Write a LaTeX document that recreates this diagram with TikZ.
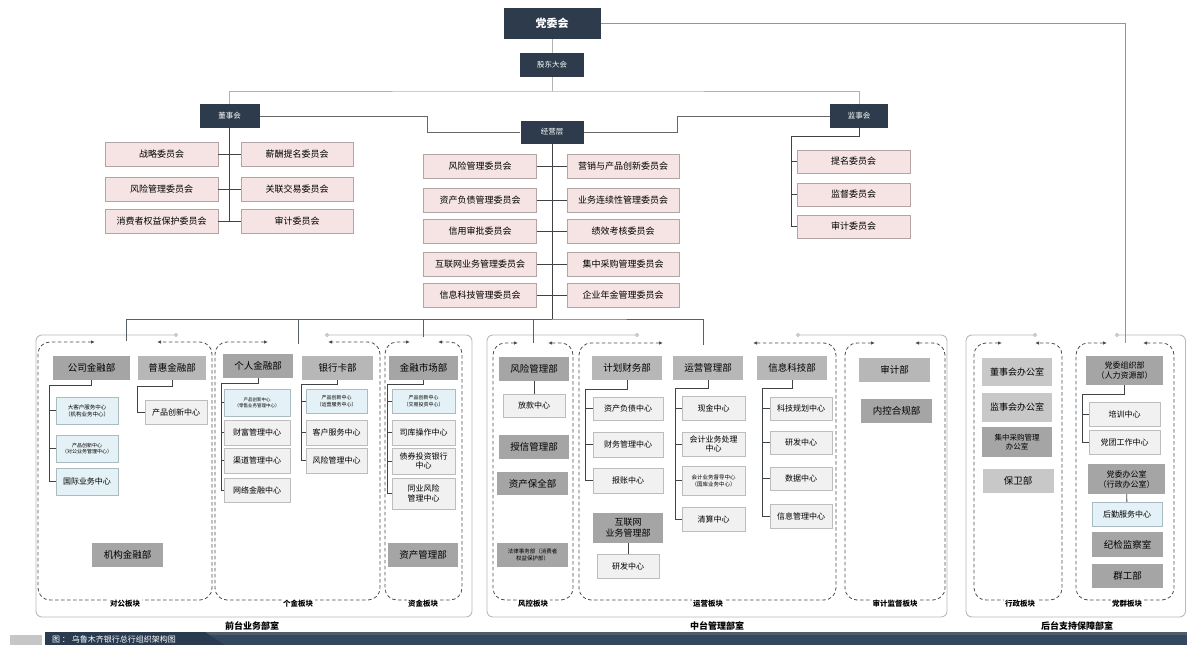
\documentclass[tikz,border=0pt]{standalone}
\usepackage{fontspec}
\setmainfont{Noto Sans CJK SC}
\usetikzlibrary{arrows.meta}
\definecolor{navy}{HTML}{2D3B4C}
\definecolor{cmtefill}{HTML}{F6E4E4}
\definecolor{cmteline}{HTML}{B3A5A5}
\definecolor{deptdark}{HTML}{A5A5A5}
\definecolor{deptmid}{HTML}{B7B7B7}
\definecolor{deptpale}{HTML}{C8C8C8}
\definecolor{ctrfill}{HTML}{F1F1F1}
\definecolor{ctrline}{HTML}{BDBDBD}
\definecolor{bluefill}{HTML}{E4F1F6}
\definecolor{blueline}{HTML}{A9BCC4}
\definecolor{treeline}{HTML}{3F4448}
\definecolor{busgray}{HTML}{56616B}
\definecolor{partyteal}{HTML}{62A9B8}
\definecolor{banner}{HTML}{34495F}
\definecolor{bannerdark}{HTML}{2A3B4F}

\begin{document}
\begin{tikzpicture}[x = 1pt, y = -1pt,
	every node/.style = {inner sep = 0pt, align = center},
	topbox/.style = {fill = navy, text = white, minimum width = 62pt, minimum height = 24pt, font = \fontsize{7.5}{9}\selectfont},
	cmte/.style = {fill = cmtefill, draw = cmteline, line width = 0.5pt, minimum width = 113pt, minimum height = 24pt, font = \fontsize{9}{10}\selectfont},
	dept/.style = {fill = deptdark, minimum width = 71pt, minimum height = 24pt, font = \fontsize{9.5}{11}\selectfont},
	deptb/.style = {dept, fill = deptmid},
	deptc/.style = {dept, fill = deptpale},
	ctr/.style = {fill = ctrfill, draw = ctrline, line width = 0.5pt, minimum height = 24pt, font = \fontsize{8}{9.5}\selectfont},
	ctrb/.style = {ctr, fill = bluefill, draw = blueline},
	smallprint/.style = {font = \fontsize{5}{6.5}\selectfont},
	link/.style = {draw = treeline, line width = 0.9pt},
	upper/.style = {draw = gray!60, line width = 0.9pt},
	mid/.style = {draw = gray!80!black, line width = 0.9pt},
	block/.style = {draw = gray!60!black, line width = 0.8pt, dash pattern = on 3.5pt off 2.5pt, rounded corners = 12pt, {Latex[length = 4pt, width = 3.5pt]}-{Latex[length = 4pt, width = 3.5pt]}},
	outerframe/.style = {draw = gray!55, line width = 0.9pt, rounded corners = 6pt, {Circle[open, length = 4pt]}-{Circle[open, length = 4pt]}},
	blocktag/.style = {fill = white, inner sep = 1.5pt, font = \bfseries\fontsize{7.5}{9}\selectfont},
	frametag/.style = {font = \bfseries\fontsize{9}{11}\selectfont}]
		\useasboundingbox (0, 0) rectangle (1187, 645);
		%%%%%%%%%%%%%
		\node[topbox, minimum width = 97pt, minimum height = 31pt, font = \bfseries\fontsize{11}{13}\selectfont] (dwh) at (552, 23.5) {党委会};
		\node[topbox, minimum width = 64pt] (gd) at (552, 65) {股东大会};
		\node[topbox, minimum width = 60pt] (dsh) at (229.5, 116) {董事会};
		\node[topbox, minimum width = 63pt, minimum height = 23pt] (jy) at (552, 132) {经营层};
		\node[topbox, minimum width = 58pt] (jsh) at (859, 116) {监事会};
		%%%%%%%%%%%%%
		\node[cmte] (d1) at (161.5, 154) {战略委员会};
		\node[cmte] (d2) at (161.5, 189) {风险管理委员会};
		\node[cmte] (d3) at (161.5, 221.5) {消费者权益保护委员会};
		\node[cmte, minimum width = 112pt] (d4) at (297, 154) {薪酬提名委员会};
		\node[cmte, minimum width = 112pt] (d5) at (297, 189) {关联交易委员会};
		\node[cmte, minimum width = 112pt] (d6) at (297, 221.5) {审计委员会};
		%%%%%%%%%%%%%
		\node[cmte] (m1) at (480, 166) {风险管理委员会};
		\node[cmte] (m2) at (480, 200) {资产负债管理委员会};
		\node[cmte] (m3) at (480, 231) {信用审批委员会};
		\node[cmte] (m4) at (480, 264.5) {互联网业务管理委员会};
		\node[cmte] (m5) at (480, 295) {信息科技管理委员会};
		\node[cmte, minimum width = 112pt] (m6) at (623, 166) {营销与产品创新委员会};
		\node[cmte, minimum width = 112pt] (m7) at (623, 200) {业务连续性管理委员会};
		\node[cmte, minimum width = 112pt] (m8) at (623, 231) {绩效考核委员会};
		\node[cmte, minimum width = 112pt] (m9) at (623, 264.5) {集中采购管理委员会};
		\node[cmte, minimum width = 112pt] (m10) at (623, 295) {企业年金管理委员会};
		%%%%%%%%%%%%%
		\node[cmte, minimum height = 23pt] (s1) at (853.5, 161.5) {提名委员会};
		\node[cmte, minimum height = 23pt] (s2) at (853.5, 194.5) {监督委员会};
		\node[cmte, minimum height = 23pt] (s3) at (853.5, 226.5) {审计委员会};
		%%%%%%%%%%%%% top links
		\coordinate (gdj) at (552, 91);
		\draw[upper] (dwh) to (gd); \draw[upper] (gd) to (gdj);
		\draw[upper] (dsh) |- (gdj) -| (jsh);
		\coordinate (dj) at (427, 132); \coordinate (jj) at (677, 132);
		\draw[mid] (dsh.east) -| (dj) -- (jy.west);
		\draw[mid] (jsh.west) -| (jj) -- (jy.east);
		\coordinate (dshb) at (229.5, 221.5);
		\draw[link] (dsh) to (dshb);
		\draw[link] (d1) to (d4); \draw[link] (d2) to (d5); \draw[link] (d3) to (d6);
		\draw[link] (m1) to (m6); \draw[link] (m2) to (m7); \draw[link] (m3) to (m8);
		\draw[link] (m4) to (m9); \draw[link] (m5) to (m10);
		\coordinate (jsj) at (791, 136);
		\draw[link] (jsh.south) |- (jsj) |- (s1.west);
		\draw[link] (jsj) |- (s2.west); \draw[link] (jsj) |- (s3.west);
		%%%%%%%%%%%%% frames and blocks
		\draw[outerframe] (178, 335) -- (36, 335) -- (36, 617) -- (472, 617) -- (472, 335) -- (325, 335);
		\draw[outerframe] (639, 335) -- (487, 335) -- (487, 617) -- (947, 617) -- (947, 335) -- (796, 335);
		\draw[outerframe] (1037, 335) -- (966, 335) -- (966, 617) -- (1185.5, 617) -- (1185.5, 335) -- (1115, 335);
		\node[frametag] (qt) at (252, 626) {前台业务部室};
		\node[frametag] (zt) at (717, 626) {中台管理部室};
		\node[frametag] (ht) at (1077, 626) {后台支持保障部室};
		\draw[block] (95, 342) -- (38, 342) -- (38, 600) -- (212, 600) -- (212, 342) -- (157, 342);
		\draw[block] (268, 342) -- (215, 342) -- (215, 600) -- (380, 600) -- (380, 342) -- (328, 342);
		\draw[block] (410, 342) -- (385, 342) -- (385, 600) -- (462, 600) -- (462, 342) -- (438, 342);
		\draw[block] (518, 343) -- (493, 343) -- (493, 600) -- (573, 600) -- (573, 343) -- (548, 343);
		\draw[block] (663, 343) -- (579, 343) -- (579, 600) -- (836, 600) -- (836, 343) -- (753, 343);
		\draw[block] (875, 343) -- (845, 343) -- (845, 600) -- (945, 600) -- (945, 343) -- (915, 343);
		\draw[block] (1002, 343) -- (974, 343) -- (974, 600) -- (1062, 600) -- (1062, 343) -- (1035, 343);
		\draw[block] (1107, 343) -- (1076, 343) -- (1076, 600) -- (1174, 600) -- (1174, 343) -- (1143, 343);
		\node[blocktag] (dgtag) at (125, 604) {对公板块};
		\node[blocktag] (gjtag) at (298, 604) {个金板块};
		\node[blocktag] (zjtag) at (423, 604) {资金板块};
		\node[blocktag] (fktag) at (533, 604) {风控板块};
		\node[blocktag] (yytag) at (708, 604) {运营板块};
		\node[blocktag] (sjtag) at (895, 604) {审计监督板块};
		\node[blocktag] (xztag) at (1020, 604) {行政板块};
		\node[blocktag] (dqtag) at (1127, 604) {党群板块};
		%%%%%%%%%%%%% bus to the blocks
		\coordinate (bus) at (552, 319);
		\coordinate (dgT) at (126, 341); \coordinate (gjT) at (298, 344);
		\coordinate (zjT) at (423, 337); \coordinate (fkT) at (533, 343);
		\coordinate (yyT) at (703, 345); \coordinate (dqT) at (1125, 343);
		\draw[link] (jy) to (bus);
		\draw[link, draw = busgray] (dgT) |- (bus) -| (yyT);
		\draw[link, draw = busgray] (gjT) |- (bus); \draw[link, draw = busgray] (zjT) |- (bus);
		\draw[link, draw = busgray] (fkT) |- (bus);
		\draw[draw = partyteal, line width = 0.9pt] (dwh) -| (dqT);
		%%%%%%%%%%%%% 对公
		\node[dept, minimum width = 77pt] (gs) at (91.5, 368) {公司金融部};
		\node[deptb, minimum width = 68pt] (ph) at (172, 368) {普惠金融部};
		\node[ctrb, minimum width = 62pt, minimum height = 27pt, font = \fontsize{5.5}{7}\selectfont] (gs1) at (87, 410.5) {大客户服务中心\\（机构业务中心）};
		\node[ctrb, minimum width = 62pt, minimum height = 27pt, smallprint] (gs2) at (87, 448.5) {产品创新中心\\（对公业务管理中心）};
		\node[ctrb, minimum width = 62pt, minimum height = 27pt] (gs3) at (87, 481.5) {国际业务中心};
		\node[ctr, minimum width = 62pt] (ph1) at (176, 412) {产品创新中心};
		\node[dept] (jg) at (127.5, 555) {机构金融部};
		\coordinate (gsj) at (49, 385);
		\draw[link] (gs.south) |- (gsj) |- (gs1.west);
		\draw[link] (gsj) |- (gs2.west); \draw[link] (gsj) |- (gs3.west);
		\coordinate (phj) at (137, 386);
		\draw[link] (ph.south) |- (phj) |- (ph1.west);
		%%%%%%%%%%%%% 个金
		\node[dept, minimum width = 70pt] (gr) at (258, 366) {个人金融部};
		\node[deptb] (yk) at (337.5, 368) {银行卡部};
		\node[ctrb, minimum width = 66pt, minimum height = 27pt, font = \fontsize{4.5}{6}\selectfont] (gr1) at (257, 402.5) {产品创新中心\\（零售业务管理中心）};
		\node[ctr, minimum width = 66pt, minimum height = 25pt] (gr2) at (257, 432.5) {财富管理中心};
		\node[ctr, minimum width = 66pt, minimum height = 25pt] (gr3) at (257, 460.5) {渠道管理中心};
		\node[ctr, minimum width = 66pt] (gr4) at (257, 490) {网络金融中心};
		\coordinate (grj) at (221, 383);
		\draw[link] (gr.south) |- (grj) |- (gr1.west);
		\draw[link] (grj) |- (gr2.west); \draw[link] (grj) |- (gr3.west); \draw[link] (grj) |- (gr4.west);
		\node[ctrb, minimum width = 61pt, smallprint] (yk1) at (336.5, 401) {产品创新中心\\（运营服务中心）};
		\node[ctr, minimum width = 61pt, minimum height = 25pt] (yk2) at (336.5, 432.5) {客户服务中心};
		\node[ctr, minimum width = 61pt, minimum height = 25pt] (yk3) at (336.5, 460.5) {风险管理中心};
		\coordinate (ykj) at (301, 384);
		\draw[link] (yk.south) |- (ykj) |- (yk1.west);
		\draw[link] (ykj) |- (yk2.west); \draw[link] (ykj) |- (yk3.west);
		%%%%%%%%%%%%% 资金
		\node[dept, minimum width = 69pt] (jr) at (423.5, 368) {金融市场部};
		\node[ctrb, minimum width = 63pt, smallprint] (jr1) at (423.5, 401) {产品创新中心\\（交易投资中心）};
		\node[ctr, minimum width = 63pt, minimum height = 25pt] (jr2) at (423.5, 432.5) {司库操作中心};
		\node[ctr, minimum width = 63pt, minimum height = 26pt] (jr3) at (423.5, 461) {债券投资银行\\中心};
		\node[ctr, minimum width = 63pt, minimum height = 31pt] (jr4) at (423.5, 493.5) {同业风险\\管理中心};
		\node[dept, minimum width = 70pt] (zg) at (423, 555) {资产管理部};
		\coordinate (jrj) at (387, 384);
		\draw[link] (jr.south) |- (jrj) |- (jr1.west);
		\draw[link] (jrj) |- (jr2.west); \draw[link] (jrj) |- (jr3.west); \draw[link] (jrj) |- (jr4.west);
		%%%%%%%%%%%%% 风控
		\node[dept, minimum width = 70pt] (fx) at (534, 369) {风险管理部};
		\node[ctr, minimum width = 62pt, minimum height = 23pt] (fk1) at (534, 405.5) {放款中心};
		\node[dept, minimum width = 70pt] (sx) at (534, 447) {授信管理部};
		\node[dept, minimum height = 23pt] (bq) at (532.5, 483.5) {资产保全部};
		\node[dept, font = \fontsize{5.5}{7}\selectfont] (fw) at (532.5, 555) {法律事务部（消费者\\权益保护部）};
		\draw[link] (fx) to (fk1);
		%%%%%%%%%%%%% 运营
		\node[deptb, minimum width = 70pt] (jh) at (627, 368) {计划财务部};
		\node[ctr, minimum width = 70pt, minimum height = 23pt] (jh1) at (628, 408.5) {资产负债中心};
		\node[ctr, minimum width = 70pt, minimum height = 25pt] (jh2) at (628, 444.5) {财务管理中心};
		\node[ctr, minimum width = 70pt, minimum height = 25pt] (jh3) at (628, 480.5) {报账中心};
		\coordinate (jhj) at (585, 389);
		\draw[link] (jh.south) |- (jhj) |- (jh1.west);
		\draw[link] (jhj) |- (jh2.west); \draw[link] (jhj) |- (jh3.west);
		\node[dept, minimum width = 70pt, minimum height = 30pt, font = \fontsize{9}{11}\selectfont] (hl) at (628, 528) {互联网\\业务管理部};
		\node[ctr, minimum width = 62pt] (hl1) at (628, 566) {研发中心};
		\draw[link] (hl) to (hl1);
		\node[deptb, minimum width = 70pt] (yg) at (708, 368) {运营管理部};
		\node[ctr, minimum width = 63pt] (yg1) at (713.5, 408) {现金中心};
		\node[ctr, minimum width = 63pt] (yg2) at (713.5, 444) {会计业务处理\\中心};
		\node[ctr, minimum width = 63pt, minimum height = 29pt, font = \fontsize{5.5}{7}\selectfont] (yg3) at (713.5, 480.5) {会计业务督导中心\\（国库业务中心）};
		\node[ctr, minimum width = 63pt] (yg4) at (713.5, 519) {清算中心};
		\coordinate (ygj) at (675, 388);
		\draw[link] (yg.south) |- (ygj) |- (yg1.west);
		\draw[link] (ygj) |- (yg2.west); \draw[link] (ygj) |- (yg3.west); \draw[link] (ygj) |- (yg4.west);
		\node[deptb, minimum width = 70pt] (xk) at (792, 368) {信息科技部};
		\node[ctr, minimum width = 62pt, minimum height = 23pt] (xk1) at (801, 408.5) {科技规划中心};
		\node[ctr, minimum width = 62pt, minimum height = 23pt] (xk2) at (801, 442.5) {研发中心};
		\node[ctr, minimum width = 62pt, minimum height = 23pt] (xk3) at (801, 478.5) {数据中心};
		\node[ctr, minimum width = 62pt] (xk4) at (801, 516) {信息管理中心};
		\coordinate (xkj) at (762, 388);
		\draw[link] (xk.south) |- (xkj) |- (xk1.west);
		\draw[link] (xkj) |- (xk2.west); \draw[link] (xkj) |- (xk3.west); \draw[link] (xkj) |- (xk4.west);
		%%%%%%%%%%%%% 审计监督
		\node[deptb] (sj) at (894.5, 370) {审计部};
		\node[dept] (nk) at (896.5, 411) {内控合规部};
		%%%%%%%%%%%%% 行政
		\node[deptc, minimum width = 70pt, minimum height = 28pt, font = \fontsize{9}{11}\selectfont] (db) at (1017, 372) {董事会办公室};
		\node[deptc, minimum width = 70pt, minimum height = 29pt, font = \fontsize{9}{11}\selectfont] (jb) at (1017, 407.5) {监事会办公室};
		\node[dept, minimum width = 70pt, minimum height = 30pt, font = \fontsize{7.5}{9}\selectfont] (jc) at (1017, 442) {集中采购管理\\办公室};
		\node[deptc] (bw) at (1018, 481) {保卫部};
		%%%%%%%%%%%%% 党群
		\node[dept, minimum width = 77pt, minimum height = 29pt, font = \fontsize{8}{10}\selectfont] (zz) at (1124.5, 370.5) {党委组织部\\（人力资源部）};
		\node[ctr, minimum width = 71pt] (zz1) at (1124.5, 414) {培训中心};
		\node[ctr, minimum width = 71pt] (zz2) at (1124.5, 442) {党团工作中心};
		\coordinate (zzj) at (1082, 394);
		\draw[link] (zz.south) |- (zzj) |- (zz1.west);
		\draw[link] (zzj) |- (zz2.west);
		\node[dept, minimum width = 77pt, minimum height = 30pt, font = \fontsize{8}{10}\selectfont] (dw) at (1126.5, 479) {党委办公室\\（行政办公室）};
		\node[ctrb, minimum width = 70pt] (dw1) at (1127, 514) {后勤服务中心};
		\node[dept, minimum height = 25pt] (jj2) at (1127.5, 544.5) {纪检监察室};
		\node[dept] (qg) at (1127.5, 576) {群工部};
		\draw[link] (dw) to (dw1);
		%%%%%%%%%%%%% caption band
		\fill[gray!45] (10, 635) rectangle (42, 645);
		\fill[banner] (45, 632) rectangle (1187, 645);
		\fill[gray!35!banner] (45, 632) rectangle (1187, 634.5);
		\fill[bannerdark] (45, 632) -- (205, 632) -- (225, 645) -- (45, 645) -- cycle;
		\node[text = white, anchor = west, font = \fontsize{8}{9}\selectfont] (cap) at (52, 639) {图 ： 乌鲁木齐银行总行组织架构图};
\end{tikzpicture}
\end{document}
